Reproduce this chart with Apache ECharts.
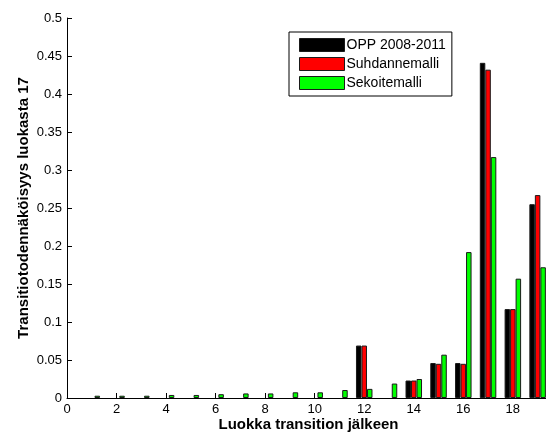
<!DOCTYPE html>
<html>
<head>
<meta charset="utf-8">
<script src="https://cdn.jsdelivr.net/npm/echarts@6/dist/echarts.min.js"></script>
<style>
html,body{margin:0;padding:0;background:#fff;}
#c{width:546px;height:435px;}
</style>
</head>
<body>
<div id="c"></div>
<script>
const classes = [1,2,3,4,5,6,7,8,9,10,11,12,13,14,15,16,17,18,19];
const seriesNames = ['OPP 2008-2011','Suhdannemalli','Sekoitemalli'];
const oppValues = [0,0,0,0,0,0,0,0,0,0,0,0.069,0,0.023,0.046,0.046,0.441,0.117,0.255];
const suhdanneValues = [0,0,0,0,0,0,0,0,0,0,0,0.069,0,0.023,0.045,0.045,0.432,0.117,0.267];
const sekoiteValues = [0.003,0.003,0.003,0.004,0.004,0.005,0.006,0.006,0.0075,0.0075,0.0105,0.012,0.019,0.025,0.057,0.192,0.317,0.157,0.172];
const xTicks = [0,2,4,6,8,10,12,14,16,18];
const yTicks = [0,0.05,0.1,0.15,0.2,0.25,0.3,0.35,0.4,0.45,0.5];
const colors = ['#000000','#ff0000','#00ff00'];

const FONT = "'Liberation Sans', Arial, sans-serif";
const chart = echarts.init(document.getElementById('c'), null, {renderer:'canvas'});
const allValues = [oppValues, suhdanneValues, sekoiteValues];
const series = allValues.map((vals, i) => ({
  name: seriesNames[i],
  type: 'bar',
  data: classes.map((c, k) => vals[k] === 0
    ? {value: [c, vals[k]], itemStyle: {borderWidth: 0}}
    : [c, vals[k]]),
  barWidth: 5.5,
  barGap: '0%',
  itemStyle: {color: colors[i], borderColor: '#1a1a1a', borderWidth: 1},
  emphasis: {disabled: true},
  animation: false
}));

chart.setOption({
  animation: false,
  backgroundColor: '#ffffff',
  textStyle: {fontFamily: FONT},
  grid: {left: 67, top: 18, bottom: 37, right: -4, containLabel: false, outerBoundsMode: 'none'},
  legend: {
    orient: 'vertical',
    left: 289, top: 32,
    data: seriesNames,
    icon: 'rect',
    itemWidth: 45, itemHeight: 13, itemGap: 5,
    padding: [6, 6, 6, 10],
    borderColor: '#000', borderWidth: 1, backgroundColor: '#fff',
    itemStyle: {borderColor: '#1a1a1a', borderWidth: 1},
    textStyle: {fontSize: 14, color: '#000', fontFamily: FONT, padding: [0, 0, 0, -3]},
    selectedMode: false
  },
  xAxis: {
    type: 'value',
    min: 0, max: 19.5, interval: 2,
    name: 'Luokka transition jälkeen',
    nameLocation: 'middle', nameGap: 19, nameMoveOverlap: false,
    nameTextStyle: {fontSize: 15, fontWeight: 'bold', color: '#000', fontFamily: FONT},
    axisLine: {lineStyle: {color: '#000', width: 1}},
    axisTick: {inside: true, length: 5, lineStyle: {color: '#000'}},
    axisLabel: {color: '#000', fontSize: 13, margin: 5, fontFamily: FONT, showMaxLabel: false,
      formatter: v => xTicks.includes(v) ? String(v) : ''},
    splitLine: {show: false}
  },
  yAxis: {
    type: 'value',
    min: 0, max: 0.5, interval: 0.05,
    name: 'Transitiotodennäköisyys luokasta 17',
    nameLocation: 'middle', nameGap: 36, nameRotate: 90, nameMoveOverlap: false,
    nameTextStyle: {fontSize: 15, fontWeight: 'bold', color: '#000', fontFamily: FONT},
    axisLine: {show: true, lineStyle: {color: '#000', width: 1}},
    axisTick: {show: true, inside: true, length: 5, lineStyle: {color: '#000'}},
    axisLabel: {color: '#000', fontSize: 13, margin: 5, fontFamily: FONT,
      formatter: v => {
        const t = yTicks.find(y => Math.abs(y - v) < 1e-9);
        return t === undefined ? '' : String(t);
      }},
    splitLine: {show: false}
  },
  series: series
});
</script>
</body>
</html>
